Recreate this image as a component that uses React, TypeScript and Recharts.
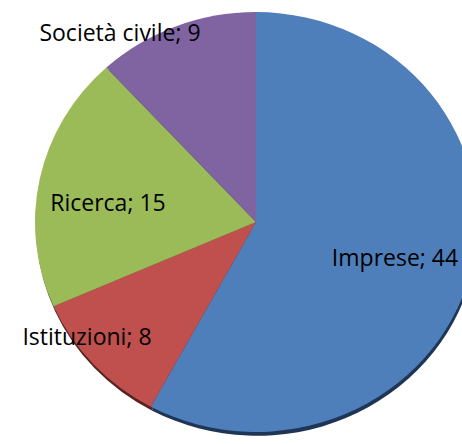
import { PieChart, Pie, Cell } from "recharts"

const categories = ["Imprese", "Istituzioni", "Ricerca", "Società civile"]
const values = [44, 8, 15, 9]

const colors = ["#4f7fbb", "#bf504d", "#9bbb59", "#8064a2"]
const shadowColors = ["#1e3556", "#5a2322", "#4a5a2a", "#3d2f4f"]

// label placement relative to the pie centre (Excel nudged these around)
const labelOffsets: Record<string, [number, number]> = {
  Imprese: [139, 44],
  Istituzioni: [-169, 123],
  Ricerca: [-148, -11],
  "Società civile": [-136, -181],
}

const chartData = categories.map((name, i) => ({ name, value: values[i] }))

const renderLabel = (props: any) => {
  const { cx, cy, name, value } = props
  const [dx, dy] = labelOffsets[name] ?? [0, 0]
  return (
    <text
      x={cx + dx}
      y={cy + dy}
      textAnchor="middle"
      fill="#000"
      fontSize={23}
      fontFamily="'Open Sans', sans-serif"
    >
      {`${name}; ${value}`}
    </text>
  )
}

export default function App() {
  return (
    <div style={{ position: "absolute", left: 0, top: 0, width: 462, height: 444, background: "#fff" }}>
      <style>{`.recharts-sector { transform-origin: 256px 222px; transform: scaleY(0.95); }`}</style>
      <PieChart width={462} height={444} margin={{ top: 0, right: 0, bottom: 0, left: 0 }}>
        <Pie
          data={chartData}
          dataKey="value"
          nameKey="name"
          cx={257}
          cy={226}
          outerRadius={221}
          startAngle={90}
          endAngle={-270}
          stroke="none"
          isAnimationActive={false}
        >
          {chartData.map((d, i) => (
            <Cell key={d.name} fill={shadowColors[i]} />
          ))}
        </Pie>
        <Pie
          data={chartData}
          dataKey="value"
          nameKey="name"
          cx={256}
          cy={222}
          outerRadius={221}
          startAngle={90}
          endAngle={-270}
          stroke="none"
          label={renderLabel}
          labelLine={false}
          isAnimationActive={false}
        >
          {chartData.map((d, i) => (
            <Cell key={d.name} fill={colors[i]} />
          ))}
        </Pie>
      </PieChart>
    </div>
  )
}
